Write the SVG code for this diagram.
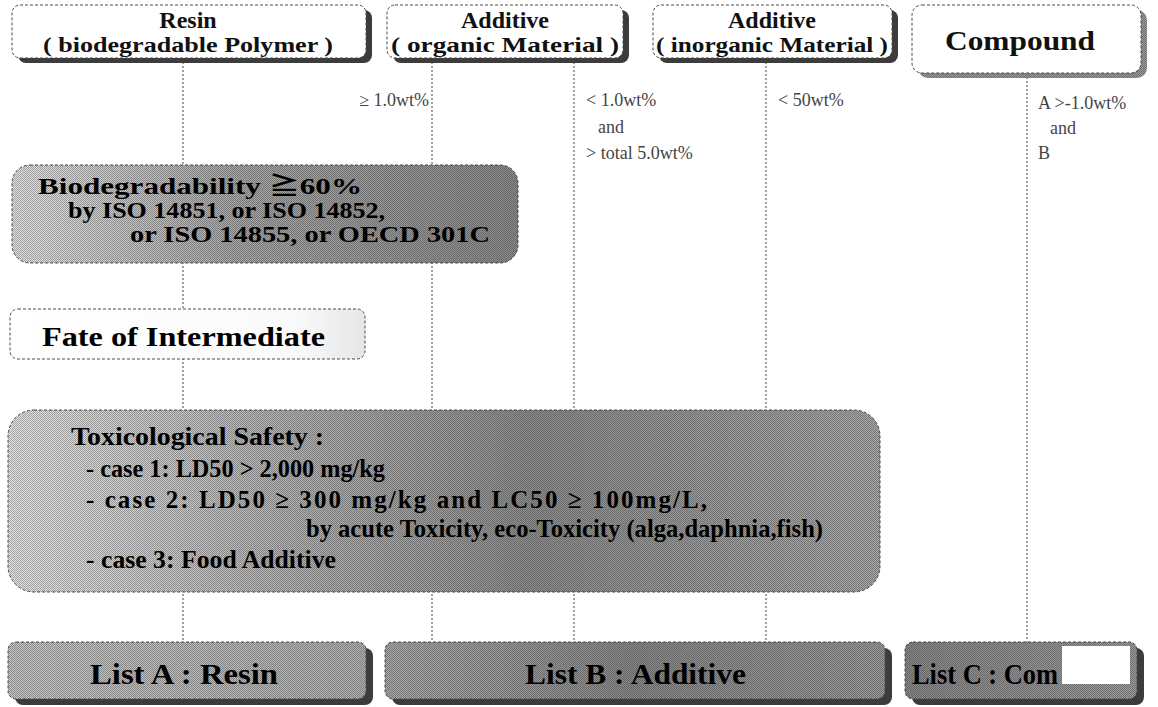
<svg xmlns="http://www.w3.org/2000/svg" width="1158" height="707" viewBox="0 0 1158 707">
  <style>
    .box { stroke: #4a4a4a; stroke-width: 1; stroke-dasharray: 3 2; }
    .shadow { fill: #3c3c3c; }
    .hdr { font-family: "Liberation Serif", "DejaVu Serif", serif; font-weight: bold; fill: #111; text-anchor: middle; }
    .big { font-family: "Liberation Serif", "DejaVu Serif", "Noto Sans CJK JP", serif; font-weight: bold; fill: #000; }
    .lbl { font-family: "Liberation Serif", "DejaVu Serif", serif; font-size: 18px; fill: #444; }
    .link { stroke: #444; stroke-width: 1; stroke-dasharray: 2 2; fill: none; }
    .grain { fill: url(#dither); opacity: 0.28; }
  </style>
  <defs>
    <pattern id="dither" width="2" height="2" patternUnits="userSpaceOnUse">
      <rect x="0" y="0" width="1" height="1" fill="#000"/>
      <rect x="1" y="1" width="1" height="1" fill="#000"/>
    </pattern>
    <linearGradient id="gBio" x1="0" y1="0" x2="1" y2="0">
      <stop offset="0" stop-color="#e2e2e2"/>
      <stop offset="0.45" stop-color="#a6a6a6"/>
      <stop offset="1" stop-color="#8c8c8c"/>
    </linearGradient>
    <linearGradient id="gTox" x1="0" y1="0" x2="1" y2="0">
      <stop offset="0" stop-color="#e4e4e4"/>
      <stop offset="0.3" stop-color="#b4b4b4"/>
      <stop offset="0.6" stop-color="#8e8e8e"/>
      <stop offset="1" stop-color="#a8a8a8"/>
    </linearGradient>
    <linearGradient id="gFate" x1="0" y1="0" x2="1" y2="0">
      <stop offset="0" stop-color="#ffffff"/>
      <stop offset="0.8" stop-color="#fafafa"/>
      <stop offset="1" stop-color="#e6e6e6"/>
    </linearGradient>
    <linearGradient id="gListA" x1="0" y1="0" x2="1" y2="0">
      <stop offset="0" stop-color="#c4c4c4"/>
      <stop offset="1" stop-color="#b0b0b0"/>
    </linearGradient>
    <linearGradient id="gListB" x1="0" y1="0" x2="1" y2="0">
      <stop offset="0" stop-color="#a8a8a8"/>
      <stop offset="0.5" stop-color="#8a8a8a"/>
      <stop offset="1" stop-color="#9a9a9a"/>
    </linearGradient>
    <linearGradient id="gListC" x1="0" y1="0" x2="1" y2="0">
      <stop offset="0" stop-color="#8a8a8a"/>
      <stop offset="1" stop-color="#9c9c9c"/>
    </linearGradient>
  </defs>

  <rect width="1158" height="707" fill="#ffffff"/>

  <!-- vertical flow lines and their threshold labels -->
  <g id="connectors">
    <line class="link" x1="183" y1="58" x2="183" y2="642"/>
    <line class="link" x1="432" y1="58" x2="432" y2="642"/>
    <line class="link" x1="574" y1="58" x2="574" y2="642"/>
    <line class="link" x1="766" y1="58" x2="766" y2="642"/>
    <line class="link" x1="1027" y1="73" x2="1027" y2="642"/>
    <text class="lbl" x="429" y="106" text-anchor="end">≥ 1.0wt%</text>
    <text class="lbl" x="586" y="106">&lt; 1.0wt%</text>
    <text class="lbl" x="598" y="133">and</text>
    <text class="lbl" x="586" y="159">&gt; total 5.0wt%</text>
    <text class="lbl" x="778" y="106">&lt; 50wt%</text>
    <text class="lbl" x="1038" y="109">A &gt;-1.0wt%</text>
    <text class="lbl" x="1050" y="134">and</text>
    <text class="lbl" x="1038" y="159">B</text>
  </g>

  <!-- header row -->
  <g id="resin">
    <rect class="shadow" x="18" y="10" width="354" height="53" rx="8"/>
    <rect class="box" x="12" y="5" width="354" height="53" rx="8" fill="#fff"/>
    <text class="hdr" x="188" y="28" font-size="24">Resin</text>
    <text class="hdr" x="188" y="52" font-size="22" textLength="290" lengthAdjust="spacingAndGlyphs">( biodegradable Polymer )</text>
  </g>
  <g id="additive-organic">
    <rect class="shadow" x="393" y="10" width="236" height="53" rx="8"/>
    <rect class="box" x="387" y="5" width="236" height="53" rx="8" fill="#fff"/>
    <text class="hdr" x="505" y="28" font-size="24">Additive</text>
    <text class="hdr" x="505" y="52" font-size="22" textLength="228" lengthAdjust="spacingAndGlyphs">( organic Material )</text>
  </g>
  <g id="additive-inorganic">
    <rect class="shadow" x="659" y="10" width="239" height="53" rx="8"/>
    <rect class="box" x="653" y="5" width="239" height="53" rx="8" fill="#fff"/>
    <text class="hdr" x="772" y="28" font-size="24">Additive</text>
    <text class="hdr" x="772" y="52" font-size="22" textLength="232" lengthAdjust="spacingAndGlyphs">( inorganic Material )</text>
  </g>
  <g id="compound">
    <rect x="918" y="10" width="229" height="68" rx="10" fill="#9a9a9a"/>
    <rect class="grain" x="918" y="10" width="229" height="68" rx="10"/>
    <rect class="box" x="912" y="5" width="229" height="68" rx="10" fill="#fff"/>
    <text class="hdr" x="1020" y="50" font-size="28" textLength="150" lengthAdjust="spacingAndGlyphs">Compound</text>
  </g>

  <!-- criteria -->
  <g id="biodegradability">
    <rect class="box" x="12" y="165" width="506" height="98" rx="18" fill="url(#gBio)"/>
    <rect class="grain" x="12" y="165" width="506" height="98" rx="18"/>
    <text class="big" x="38" y="194" font-size="24" textLength="324" lengthAdjust="spacingAndGlyphs">Biodegradability ≧60%</text>
    <text class="big" x="68" y="218" font-size="24" textLength="317" lengthAdjust="spacingAndGlyphs">by ISO 14851, or ISO 14852,</text>
    <text class="big" x="130" y="242" font-size="24" textLength="360" lengthAdjust="spacingAndGlyphs">or ISO 14855, or OECD 301C</text>
  </g>
  <g id="fate">
    <rect class="box" x="10" y="309" width="355" height="50" rx="8" fill="url(#gFate)"/>
    <text class="big" x="42" y="346" font-size="27" textLength="283" lengthAdjust="spacingAndGlyphs">Fate of Intermediate</text>
  </g>
  <g id="toxicological-safety">
    <rect class="box" x="8" y="410" width="872" height="182" rx="26" fill="url(#gTox)"/>
    <rect class="grain" x="8" y="410" width="872" height="182" rx="26"/>
    <text class="big" x="71" y="445" font-size="25" textLength="253" lengthAdjust="spacingAndGlyphs">Toxicological Safety :</text>
    <text class="big" x="86" y="477" font-size="25" textLength="299" lengthAdjust="spacingAndGlyphs">- case 1: LD50 &gt; 2,000 mg/kg</text>
    <text class="big" x="86" y="508" font-size="25" textLength="621" lengthAdjust="spacing">- case 2: LD50 ≥ 300 mg/kg and LC50 ≥ 100mg/L,</text>
    <text class="big" x="306" y="537" font-size="25" textLength="517" lengthAdjust="spacingAndGlyphs">by acute Toxicity, eco-Toxicity (alga,daphnia,fish)</text>
    <text class="big" x="86" y="568" font-size="25" textLength="250" lengthAdjust="spacingAndGlyphs">- case 3: Food Additive</text>
  </g>

  <!-- result lists -->
  <g id="list-a">
    <rect class="shadow" x="15" y="648" width="358" height="57" rx="8"/>
    <rect class="box" x="8" y="642" width="358" height="57" rx="8" fill="url(#gListA)"/>
    <rect class="grain" x="8" y="642" width="358" height="57" rx="8"/>
    <text class="big" x="90" y="684" font-size="30" textLength="188" lengthAdjust="spacingAndGlyphs">List A : Resin</text>
  </g>
  <g id="list-b">
    <rect class="shadow" x="392" y="648" width="500" height="57" rx="8"/>
    <rect class="box" x="385" y="642" width="500" height="57" rx="8" fill="url(#gListB)"/>
    <rect class="grain" x="385" y="642" width="500" height="57" rx="8"/>
    <text class="big" x="525" y="684" font-size="30" textLength="221" lengthAdjust="spacingAndGlyphs">List B : Additive</text>
  </g>
  <g id="list-c">
    <rect class="shadow" x="912" y="648" width="232" height="57" rx="8"/>
    <rect class="box" x="905" y="642" width="232" height="57" rx="8" fill="url(#gListC)"/>
    <rect class="grain" x="905" y="642" width="232" height="57" rx="8"/>
    <text class="big" x="912" y="684" font-size="30" textLength="146" lengthAdjust="spacingAndGlyphs">List C : Com</text>
    <rect x="1062" y="646" width="68" height="38" fill="#fff"/>
  </g>
</svg>
